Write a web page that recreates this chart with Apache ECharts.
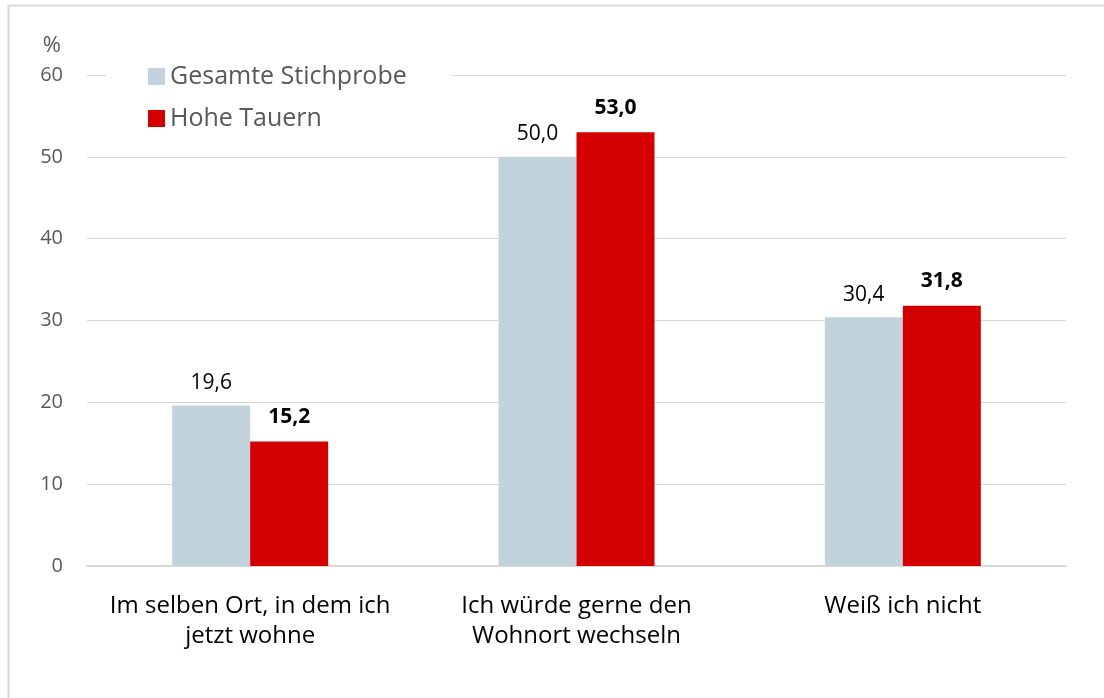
<!DOCTYPE html>
<html>
<head>
<meta charset="utf-8">
<script src="https://cdn.jsdelivr.net/npm/echarts@6/dist/echarts.min.js"></script>
<style>
  html, body { margin: 0; padding: 0; background: #fff; }
  #chart { width: 1104px; height: 698px; }
</style>
</head>
<body>
<div id="chart"></div>
<script>
// Daten
const categories = ['Im selben Ort, in dem ich\njetzt wohne', 'Ich würde gerne den\nWohnort wechseln', 'Weiß ich nicht'];
const gesamt = [19.6, 50.0, 30.4];
const hoheTauern = [15.2, 53.0, 31.8];
const seriesNames = ['Gesamte Stichprobe', 'Hohe Tauern'];

const font = 'Open Sans';
const fmt = p => p.value.toFixed(1).replace('.', ',');

const chart = echarts.init(document.getElementById('chart'));
chart.setOption({
  animation: false,
  textStyle: { fontFamily: font },
  graphic: [{
    type: 'rect',
    shape: { x: 8.5, y: 5.5, width: 1300, height: 900 },
    style: { fill: 'none', stroke: '#d9d9d9', lineWidth: 2 },
    silent: true
  }],
  grid: { left: 87, right: 38, top: 75, bottom: 132 },
  legend: {
    left: 106, top: 58,
    orient: 'vertical',
    backgroundColor: '#fff',
    padding: [6, 46, 6, 42],
    itemGap: 17,
    itemWidth: 17, itemHeight: 17,
    icon: 'rect',
    textStyle: { fontFamily: font, fontSize: 25, color: '#595959' },
    data: seriesNames
  },
  xAxis: {
    type: 'category',
    data: categories,
    axisLine: { lineStyle: { color: '#d9d9d9', width: 2 } },
    axisTick: { length: 8, lineStyle: { color: '#d9d9d9', width: 2 } },
    axisLabel: { interval: 0, hideOverlap: false, fontSize: 24, color: '#000', lineHeight: 30, margin: 25, fontFamily: font }
  },
  yAxis: {
    type: 'value',
    min: 0, max: 60, interval: 10,
    name: '%',
    nameLocation: 'end',
    nameGap: 18,
    nameTextStyle: { fontSize: 22, color: '#595959', align: 'right', padding: [0, 26, 0, 0], fontFamily: font },
    axisLabel: { fontSize: 20, color: '#595959', margin: 24, fontFamily: font },
    splitLine: { lineStyle: { color: '#d9d9d9', width: 1 } },
    axisLine: { show: false },
    axisTick: { show: false }
  },
  series: [{
    name: seriesNames[0],
    type: 'bar',
    data: gesamt,
    barWidth: 78,
    barGap: '0%',
    itemStyle: { color: '#c3d3de' },
    label: { show: true, position: 'top', distance: 12, fontSize: 21, color: '#000', fontFamily: font, formatter: fmt }
  }, {
    name: seriesNames[1],
    type: 'bar',
    data: hoheTauern,
    barWidth: 78,
    barGap: '0%',
    itemStyle: { color: '#d40000' },
    label: { show: true, position: 'top', distance: 14, fontSize: 21, fontWeight: 'bold', color: '#000', fontFamily: font, formatter: fmt }
  }]
});
</script>
</body>
</html>
